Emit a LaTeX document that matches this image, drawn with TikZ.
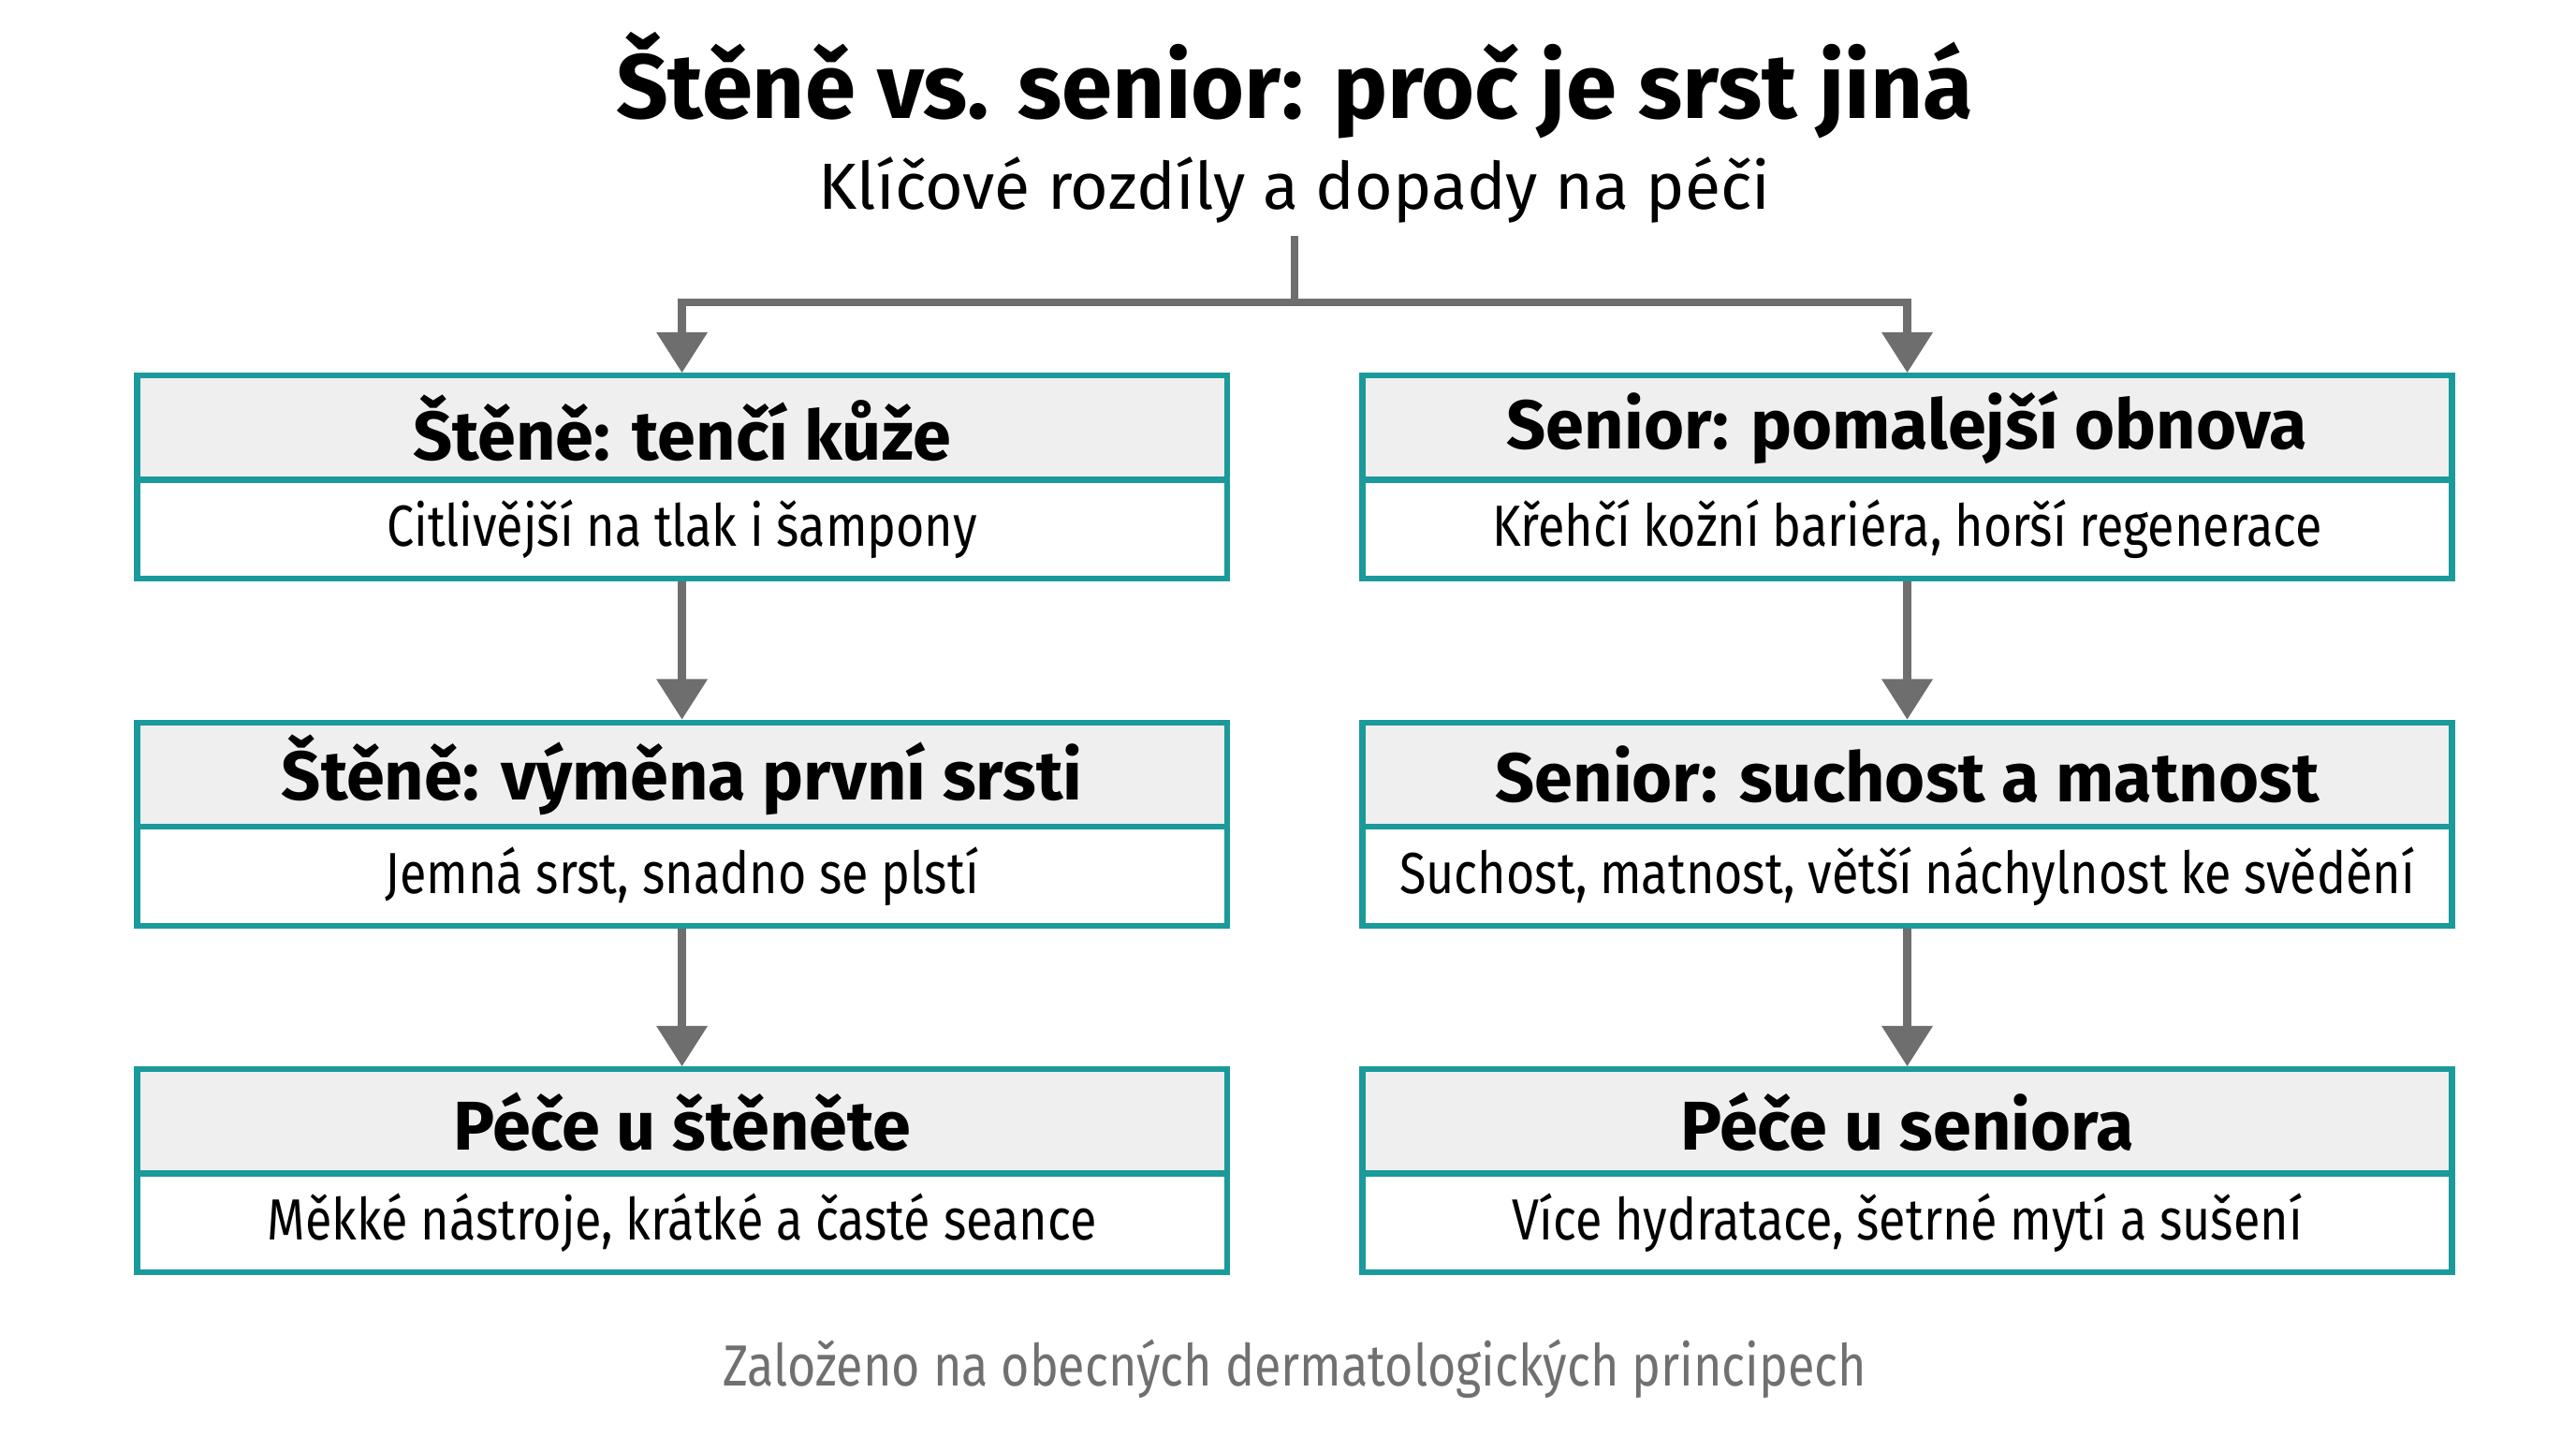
\documentclass[tikz,border=0pt]{standalone}
\usepackage{fontspec}
\setmainfont{Fira Sans}
\newfontfamily\bodyfont[FakeStretch=0.84]{Fira Sans}
\usetikzlibrary{arrows.meta,positioning}
\definecolor{tealline}{HTML}{1A9A9A}
\definecolor{headfill}{HTML}{EFEFEF}
\definecolor{arrowgrey}{HTML}{6E6E6E}
\tikzset{
  headbox/.style={draw=tealline,line width=2pt,fill=headfill,minimum width=13.2cm,minimum height=1.26cm,inner sep=0pt,font=\fontsize{23.8}{26}\selectfont\bfseries},
  bodybox/.style={draw=tealline,line width=2pt,fill=white,minimum width=13.2cm,minimum height=1.2cm,inner sep=0pt,font=\bodyfont\fontsize{20}{23}\selectfont},
  flow/.style={draw=arrowgrey,line width=2.8pt,-{Triangle[width=17pt,length=14pt]}},
  trunk/.style={draw=arrowgrey,line width=2.8pt}
}
\begin{document}
\begin{tikzpicture}[x=0.02cm,y=-0.02cm]
\useasboundingbox (0,0) rectangle (1560,870);
\node (title) at (784,52) {\fontsize{31.5}{34}\selectfont\bfseries Štěně vs. senior: proč je srst jiná};
\node (sub) at (784,115) {\fontsize{22.5}{25}\selectfont Klíčové rozdíly a dopady na péči};
% left column
\node[headbox] (lh1) at (413,259) {Štěně: tenčí kůže};
\node[bodybox,below=-2pt of lh1] (lb1) {Citlivější na tlak i šampony};
\node[headbox] (lh2) at (413,469) {Štěně: výměna první srsti};
\node[bodybox,below=-2pt of lh2] (lb2) {Jemná srst, snadno se plstí};
\node[headbox] (lh3) at (413,679) {Péče u štěněte};
\node[bodybox,below=-2pt of lh3] (lb3) {Měkké nástroje, krátké a časté seance};
% right column
\node[headbox] (rh1) at (1155,259) {Senior: pomalejší obnova};
\node[bodybox,below=-2pt of rh1] (rb1) {Křehčí kožní bariéra, horší regenerace};
\node[headbox] (rh2) at (1155,469) {Senior: suchost a matnost};
\node[bodybox,below=-2pt of rh2] (rb2) {Suchost, matnost, větší náchylnost ke svědění};
\node[headbox] (rh3) at (1155,679) {Péče u seniora};
\node[bodybox,below=-2pt of rh3] (rb3) {Více hydratace, šetrné mytí a sušení};
\node (foot) at (784,829) {\bodyfont\fontsize{20}{23}\selectfont\color[HTML]{707070}Založeno na obecných dermatologických principech};
% connectors
\coordinate (top) at (784,143);
\coordinate (split) at (784,183);
\draw[trunk] (top) -- (split);
\draw[flow] (split) -| (lh1.north);
\draw[flow] (split) -| (rh1.north);
\draw[flow] (lb1) -- (lh2);
\draw[flow] (lb2) -- (lh3);
\draw[flow] (rb1) -- (rh2);
\draw[flow] (rb2) -- (rh3);
\end{tikzpicture}
\end{document}
